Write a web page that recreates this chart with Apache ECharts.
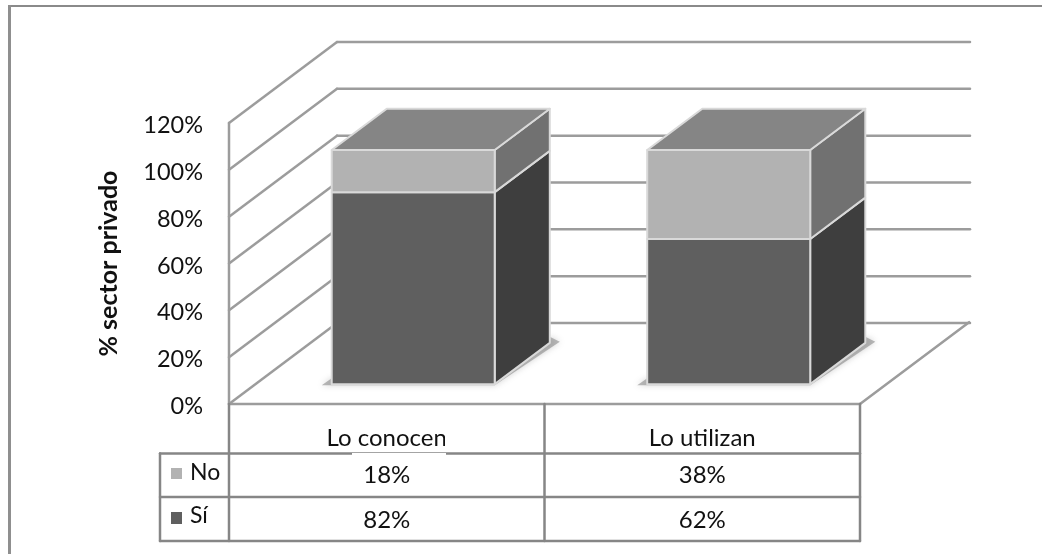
<!DOCTYPE html>
<html>
<head>
<meta charset="utf-8">
<style>html,body{margin:0;padding:0;background:#fff}#c{width:1042px;height:554px}</style>
<script src="https://cdn.jsdelivr.net/npm/echarts@6/dist/echarts.min.js"></script>
</head>
<body>
<div id="c"></div>
<script>
const categories = ['Lo conocen', 'Lo utilizan'];
const yesValues = [82, 62];
const noValues = [18, 38];
const yTicks = [0, 20, 40, 60, 80, 100, 120];
const seriesNames = { no: 'No', yes: 'Sí' };

// Oblique projection of the chart box
const DEPTH = [108, -81];
const BAR_FRONT = 0.245;      // share of the depth in front of each bar
const BAR_DEPTH = 0.51;       // share of the depth taken by each bar
const BAR_WIDTH = 163;

const LINE = '#9c9c9c';
const TABLE = '#868686';
const TEXT = '#111111';
const C = {
  yesFront: '#5f5f5f', yesSide: '#3e3e3e',
  noFront: '#b2b2b2', noSide: '#717171',
  top: '#858585', edge: '#d9d9d9'
};

const line = (a, b, color, width) => ({
  type: 'line', silent: true,
  shape: { x1: a[0], y1: a[1], x2: b[0], y2: b[1] },
  style: { stroke: color, lineWidth: width, lineCap: 'round' }
});
const poly = (pts, fill, stroke, extra) => ({
  type: 'polygon', silent: true,
  shape: { points: pts },
  style: Object.assign({ fill, stroke: stroke || 'none', lineWidth: stroke ? 2 : 0, lineJoin: 'round' }, extra || {})
});
const shift = (p, k) => [p[0] + DEPTH[0] * k, p[1] + DEPTH[1] * k];

// Side wall, back wall and floor lines, one set per y tick
function renderWall(params, api) {
  const v = api.value(0);
  const band = api.size([1, 0])[0];
  const left = api.coord([0, v])[0] - band / 2;
  const right = left + band * categories.length;
  const y = api.coord([0, v])[1];
  const a = [left, y], b = shift(a, 1);
  const c = [right + DEPTH[0] + 2, b[1]];
  const items = [line(a, b, LINE, 2.5), line(b, c, LINE, 2.5)];
  if (v === 0) {
    const f = [right, y];
    items.push(line(a, f, LINE, 2.5), line(f, shift(f, 1.01), LINE, 2.5));
  }
  return { type: 'group', children: items };
}

// One stacked block: soft floor shadow, then the Sí and No segments with a shared top
function renderBar(params, api) {
  const i = api.value(0), yes = api.value(1), no = api.value(2);
  const cx = api.coord([i, 0])[0];
  const base = api.coord([i, 0])[1];
  const y1 = api.coord([i, yes])[1];
  const y2 = api.coord([i, yes + no])[1];
  const front = shift([cx - BAR_WIDTH / 2, base], BAR_FRONT);
  const dx = front[0], by = front[1];
  const ty1 = by - (base - y1), ty2 = by - (base - y2);
  const r = dx + BAR_WIDTH;
  const back = p => shift(p, BAR_DEPTH);
  const quad = (y0, y1, fill) => poly([[dx, y0], [r, y0], [r, y1], [dx, y1]], fill, C.edge);
  const side = (y0, y1, fill) => poly([[r, y0], back([r, y0]), back([r, y1]), [r, y1]], fill, C.edge);
  const bk = back([r, by]);
  return {
    type: 'group',
    children: [
      poly([[dx - 10, by + 1], [r, by + 1], [bk[0] + 10, bk[1] - 1], [bk[0], bk[1] - 6], [r, by - 6], [dx, by - 6]],
        'rgba(130,130,130,0.55)', null, { shadowBlur: 6, shadowColor: 'rgba(120,120,120,0.6)' }),
      side(by, ty1, C.yesSide),
      side(ty1, ty2, C.noSide),
      quad(by, ty1, C.yesFront),
      quad(ty1, ty2, C.noFront),
      poly([[dx, ty2], [r, ty2], back([r, ty2]), back([dx, ty2])], C.top, C.edge)
    ]
  };
}

// Data table under the floor, aligned with the category bands
const TABLE_Y = { top: 404, cat: 453.5, no: 497, yes: 541 };
const TABLE_LEFT = 160;
function renderTable(params, api) {
  const band = api.size([1, 0])[0];
  const left = api.coord([0, 0])[0] - band / 2;
  const right = left + band * categories.length;
  const mid = left + band;
  const T = TABLE_Y;
  const items = [
    line([left, 123], [left, T.top], LINE, 2.5),
    line([left, T.top], [left, T.yes], TABLE, 2.5),
    line([mid, T.top], [mid, T.yes], TABLE, 2.5),
    line([right, T.top], [right, T.yes], TABLE, 2.5),
    line([TABLE_LEFT, T.cat], [right, T.cat], TABLE, 2.5),
    line([TABLE_LEFT, T.no], [right, T.no], TABLE, 2.5),
    line([TABLE_LEFT, T.yes], [right, T.yes], TABLE, 2.5),
    line([TABLE_LEFT, T.cat], [TABLE_LEFT, T.yes], TABLE, 2.5),
    { type: 'rect', shape: { x: 171, y: 468, width: 11, height: 11 }, style: { fill: C.noFront } },
    { type: 'rect', shape: { x: 171, y: 512, width: 11, height: 12 }, style: { fill: C.yesFront } }
  ];
  const label = (x, y, text, align, size) => ({
    type: 'text',
    style: { x, y, text, align: align || 'center', verticalAlign: 'middle', fill: TEXT, font: (size || 24) + 'px Lato' }
  });
  items.push(label(190, 473, seriesNames.no, 'left', 23), label(190, 516, seriesNames.yes, 'left', 23));
  categories.forEach((_, i) => {
    const cx = api.coord([i, 0])[0];
    items.push(label(cx, 475.5, noValues[i] + '%'), label(cx, 520, yesValues[i] + '%'));
  });
  return { type: 'group', children: items };
}

const chart = echarts.init(document.getElementById('c'), null, { renderer: 'canvas' });
chart.setOption({
  animation: false,
  backgroundColor: '#fff',
  grid: { left: 229, top: 123, width: 631, height: 281 },
  graphic: [
    { type: 'rect', shape: { x: 8, y: 5, width: 1034, height: 2 }, style: { fill: '#8a8a8a' }, z: 0 },
    { type: 'rect', shape: { x: 8, y: 5, width: 3, height: 549 }, style: { fill: '#8f8f8f' }, z: 0 },
    { type: 'rect', shape: { x: 352, y: 453, width: 94, height: 2.5 }, style: { fill: '#fff' }, z: 100 },
    { type: 'rect', shape: { x: 445, y: 428, width: 5, height: 24 }, style: { fill: '#fff' }, z: 100 }
  ],
  xAxis: {
    type: 'category',
    data: categories,
    axisLine: { show: false },
    axisTick: { show: false },
    axisLabel: { color: TEXT, fontFamily: 'Lato', fontSize: 24, margin: 22 }
  },
  yAxis: {
    type: 'value',
    min: 0, max: 120, interval: 20,
    name: '% sector privado',
    nameLocation: 'middle',
    nameRotate: 90,
    nameGap: 108,
    nameTextStyle: { fontFamily: 'Lato', fontWeight: 'bold', fontSize: 25, color: TEXT },
    axisLine: { show: false },
    axisTick: { show: false },
    splitLine: { show: false },
    axisLabel: {
      color: TEXT, fontFamily: 'Lato', fontSize: 23.5, margin: 26,
      formatter: v => v + '%', verticalAlign: 'top', lineHeight: 5
    }
  },
  series: [
    { type: 'custom', name: 'walls', z: 1, clip: false, renderItem: renderWall,
      data: yTicks.map(v => [v]), encode: { y: 0 } },
    { type: 'custom', name: 'table', z: 2, clip: false, renderItem: renderTable,
      data: [[0]], encode: { y: 0 } },
    { type: 'custom', name: 'bars', z: 3, clip: false, renderItem: renderBar,
      data: categories.map((_, i) => [i, yesValues[i], noValues[i]]), encode: { x: 0, y: [1, 2] } }
  ]
});
</script>
</body>
</html>
